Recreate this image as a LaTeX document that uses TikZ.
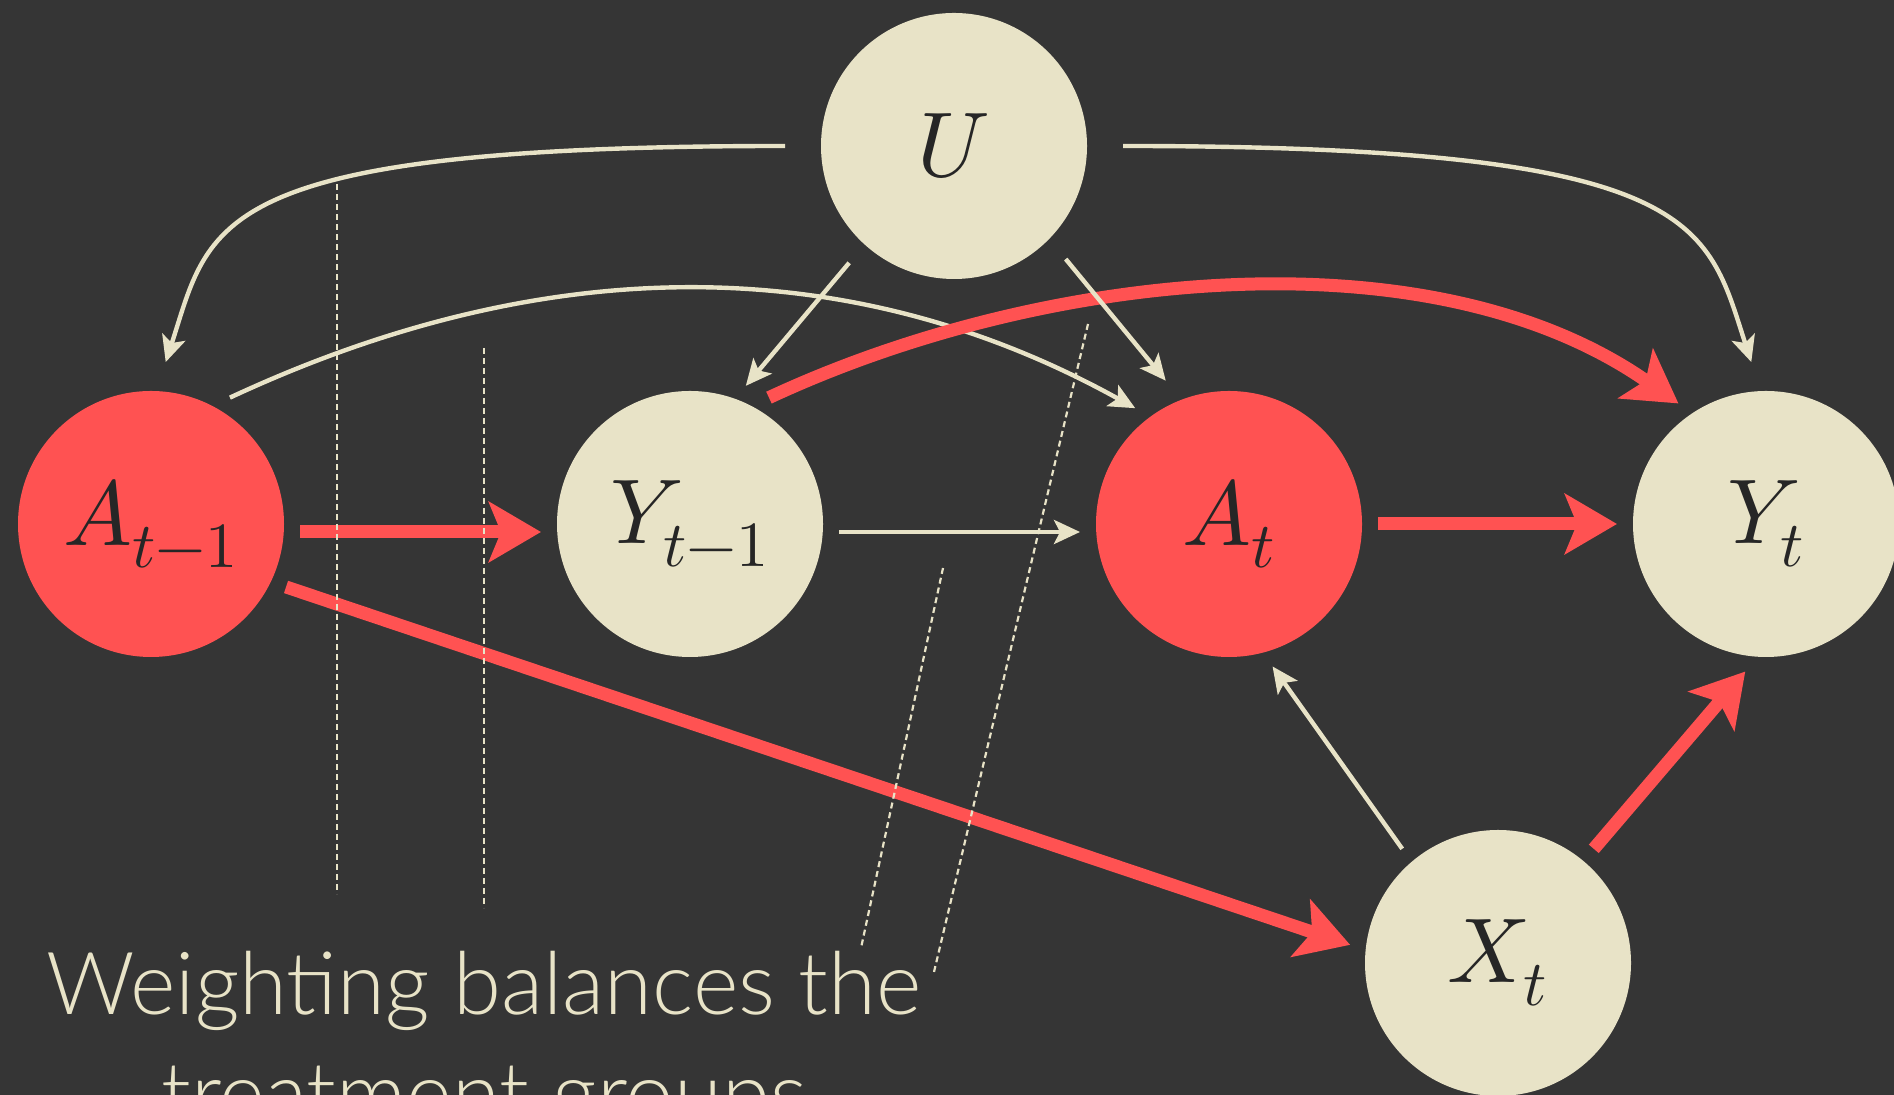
\documentclass[tikz,border=0pt]{standalone}
\usepackage{fontspec}
\usepackage{unicode-math}
\setmathfont{Latin Modern Math}
\usetikzlibrary{arrows.meta}
\newfontfamily\slidefont{Lato}[UprightFont={* Light}]
\definecolor{slate}{HTML}{353535}
\definecolor{parchment}{HTML}{E8E3C7}
\definecolor{coral}{HTML}{FF5252}
\definecolor{ink}{HTML}{262626}

\begin{document}
\begin{tikzpicture}[x=0.5pt, y=0.5pt,
    var/.style={circle, minimum size=133pt, inner sep=0pt, outer sep=8pt,
      text=ink, font=\fontsize{46}{56}\selectfont},
    treated/.style={var, fill=coral},
    plain/.style={var, fill=parchment},
    thinpath/.style={draw=parchment, line width=2.2pt,
      -{Stealth[length=13pt, width=12pt, inset=3pt]}},
    boldpath/.style={draw=coral, line width=6.5pt,
      -{Stealth[length=26pt, width=30pt, inset=6pt]}},
    cutline/.style={draw=parchment, line width=1.1pt, dash pattern=on 3pt off 2pt},
    ]
    \useasboundingbox (0,0) rectangle (1894,1095);
    \fill[slate] (0,0) rectangle (1894,1095);
    \clip (0,0) rectangle (1894,1095);

    % variables
    \node[plain]   (U)    at (954,949)  {$U$};
    \node[treated] (Atm1) at (151,571)  {$A_{t-1}$};
    \node[plain]   (Ytm1) at (690,571)  {$Y_{t-1}$};
    \node[treated] (At)   at (1229,571) {$A_t$};
    \node[plain]   (Yt)   at (1766,571) {$Y_t$};
    \node[plain]   (Xt)   at (1498,132) {$X_t$};

    % confounding by U
    \draw[thinpath, shorten <=10pt, shorten >=7pt] (U.west)
      to[out=180, in=72, out distance=300pt, in distance=80pt] (Atm1.86);
    \draw[thinpath, shorten <=10pt, shorten >=7pt] (U.east)
      to[out=0, in=108, out distance=300pt, in distance=80pt] (Yt.94);
    \draw[thinpath] (Atm1.58) to[out=25, in=151, looseness=0.95] (At.129);
    \draw[boldpath] (Ytm1.58) to[out=25, in=145, looseness=0.85] (Yt.126);
    \draw[thinpath, shorten <=4pt] (U.228) -- (Ytm1.68);
    \draw[thinpath, shorten <=5pt, shorten >=4pt] (U.-45) -- (At.113);

    % time ordered arrows
    \draw[boldpath] ([yshift=-4pt]Atm1.east) -- ([yshift=-4pt]Ytm1.west);
    \draw[thinpath] ([yshift=-4pt]Ytm1.east) -- ([yshift=-4pt]At.west);
    \draw[boldpath] (At) -- (Yt);
    \draw[boldpath] (Atm1.-25) -- (Xt.173);
    \draw[thinpath] (Xt.130) -- (At.-73);
    \draw[boldpath] (Xt.50) -- (Yt.-98);

    % cuts
    \draw[cutline] (337,911) -- (337,201);
    \draw[cutline] (484,747) -- (484,187);
    \draw[cutline] (1088,771) -- (934,123);
    \draw[cutline] (943,527) -- (861,147);

    \node[text=parchment, align=center, anchor=base,
      font=\slidefont\fontsize{43.5}{55}\selectfont] (caption) at (484,-30)
      {Weighting balances the\\treatment groups};
\end{tikzpicture}
\end{document}
